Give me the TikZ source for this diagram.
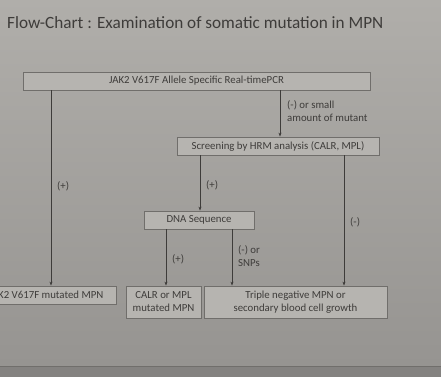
\documentclass[tikz,border=0pt]{standalone}
\usepackage{fontspec}
\setmainfont{Carlito}
\usetikzlibrary{arrows.meta}
\definecolor{slidetop}{RGB}{176,174,170}
\definecolor{slidebot}{RGB}{150,148,145}
\definecolor{floorc}{RGB}{132,130,128}
\definecolor{boxfill}{RGB}{182,180,176}
\definecolor{ink}{RGB}{62,60,58}
\definecolor{frame}{RGB}{112,110,107}
\tikzset{
  stepbox/.style={draw=frame, fill=boxfill, line width=0.8pt, inner sep=1pt,
    font=\fontsize{10.8}{13}\selectfont, text=ink, align=center},
  arr/.style={draw=ink, line width=0.8pt, -{Stealth[length=4pt,width=3pt]}},
  lbl/.style={font=\fontsize{10.8}{13}\selectfont, text=ink, align=left, anchor=west, inner sep=0pt}
}
\begin{document}
\begin{tikzpicture}[x=1pt,y=-1pt]
  \useasboundingbox (0,0) rectangle (441,377);
  \clip (0,0) rectangle (441,377);
  % slide background and lower edge
  \shade[top color=slidetop, bottom color=slidebot] (0,0) rectangle (441,366);
  \fill[floorc] (0,366) rectangle (441,377);
  \draw[frame, line width=0.8pt] (0,366) -- (441,366);

  % title
  \node[anchor=west, inner sep=0pt, text=ink, font=\fontsize{17.2}{19}\selectfont]
    (title) at (7,23) {Flow-Chart : Examination of somatic mutation in MPN};

  % boxes
  \node[stepbox, minimum width=347pt, minimum height=18pt] (pcr) at (196.5,81)
    {JAK2 V617F Allele Specific Real-timePCR};
  \node[stepbox, minimum width=202pt, minimum height=18pt] (hrm) at (278,146)
    {Screening by HRM analysis (CALR, MPL)};
  \node[stepbox, minimum width=110pt, minimum height=18pt] (dna) at (199,220)
    {DNA Sequence};
  \node[stepbox, minimum width=140pt, minimum height=18pt] (jak) at (46,295)
    {JAK2 V617F mutated MPN};
  \node[stepbox, minimum width=75pt, minimum height=32pt] (calr) at (163.5,302)
    {CALR or MPL\\mutated MPN};
  \node[stepbox, minimum width=183pt, minimum height=32pt] (trip) at (295.5,302)
    {Triple negative MPN or\\secondary blood cell growth};

  % connector columns
  \coordinate (xa) at (51,0);
  \coordinate (xb) at (280,0);
  \coordinate (xc) at (200,0);
  \coordinate (xd) at (344,0);
  \coordinate (xe) at (166,0);
  \coordinate (xf) at (232,0);

  \draw[arr] (pcr.south -| xa) -- (jak.north -| xa);
  \draw[arr] (pcr.south -| xb) -- (hrm.north -| xb);
  \draw[arr] (hrm.south -| xc) -- (dna.north -| xc);
  \draw[arr] (hrm.south -| xd) -- (trip.north -| xd);
  \draw[arr] (dna.south -| xe) -- (calr.north -| xe);
  \draw[arr] (dna.south -| xf) -- (trip.north -| xf);

  % branch labels
  \node[lbl] (l1) at (57,186) {(+)};
  \node[lbl] (l2) at (287,111) {(-) or small\\amount of mutant};
  \node[lbl] (l3) at (206,185) {(+)};
  \node[lbl] (l4) at (350,222) {(-)};
  \node[lbl] (l5) at (172,259) {(+)};
  \node[lbl] (l6) at (238,256) {(-) or\\SNPs};
\end{tikzpicture}
\end{document}
